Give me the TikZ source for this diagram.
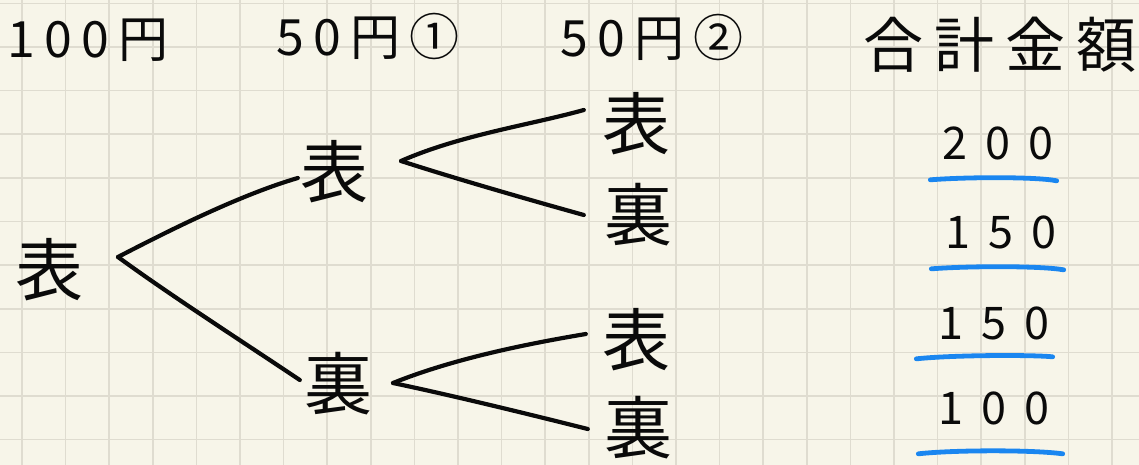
\documentclass[tikz,border=0pt]{standalone}
\usepackage{fontspec}
\usetikzlibrary{calc}
\newfontfamily\jp{Noto Sans CJK JP}
\newfontfamily\jpwide[LetterSpace=18]{Noto Sans CJK JP}
\newfontfamily\numwide[LetterSpace=40]{Noto Sans CJK JP}
\definecolor{paper}{HTML}{F7F5E9}
\definecolor{gridline}{HTML}{DFDCD0}
\definecolor{pen}{HTML}{0A0A0A}
\definecolor{marker}{HTML}{1A86F0}
\begin{document}
\begin{tikzpicture}[x=1pt,y=-1pt,
  head/.style={font=\jpwide\fontsize{50}{50}\selectfont, text=pen, inner sep=0pt},
  leaf/.style={font=\jp\fontsize{68}{68}\selectfont, text=pen, inner sep=0pt},
  total/.style={font=\numwide\fontsize{45}{45}\selectfont, text=pen, inner sep=0pt},
  branch/.style={draw=pen, line width=4.2pt, line cap=round, line join=round},
  uline/.style={draw=marker, line width=4.8pt, line cap=round}]
  % paper and squared grid
  \fill[paper] (0,0) rectangle (1139,465);
  \useasboundingbox (0,0) rectangle (1139,465);
  \foreach \i in {0,...,25} {
    \draw[gridline, line width=1.6pt] ({22+43.6*\i},0) -- ({22+43.6*\i},465);
  }
  \foreach \j in {0,...,10} {
    \draw[gridline, line width=1.6pt] (0,{3.5+43.6*\j}) -- (1139,{3.5+43.6*\j});
  }

  % column headings
  \node[head] (h1) at (88,40) {100円};
  \node[head] (h2) at (368,37) {50円①};
  \node[head] (h3) at (652,38) {50円②};
  \node[head, font=\jpwide\fontsize{60}{60}\selectfont] (h4) at (1000,45) {合計金額};

  % tree of outcomes
  \node[leaf] (r)  at (49,270)  {表};
  \node[leaf] (a1) at (334,172) {表};
  \node[leaf] (a2) at (338,384) {裏};
  \node[leaf] (b1) at (636,124) {表};
  \node[leaf] (b2) at (638,215) {裏};
  \node[leaf] (b3) at (636,340) {表};
  \node[leaf] (b4) at (638,428) {裏};

  % fork points of the branches
  \coordinate (f0) at (118,257);
  \coordinate (f1) at (401,161);
  \coordinate (f2) at (393,383);

  \draw[branch] (f0) .. controls (170,230) and (240,195) .. ($(a1.west)+(-2,6)$);
  \draw[branch] (f0) .. controls (170,295) and (240,340) .. ($(a2.west)+(-4,-4)$);
  \draw[branch] (f1) .. controls (460,135) and (530,125) .. ($(b1.west)+(-18,-14)$);
  \draw[branch] (f1) .. controls (460,180) and (530,200) .. ($(b2.west)+(-20,0)$);
  \draw[branch] (f2) .. controls (450,360) and (520,345) .. ($(b3.west)+(-16,-6)$);
  \draw[branch] (f2) .. controls (450,395) and (520,412) .. ($(b4.west)+(-16,1)$);

  % total amounts, each underlined in blue
  \node[total] (t1) at (998,143) {200};
  \node[total] (t2) at (1001,232) {150};
  \node[total] (t3) at (994,323) {150};
  \node[total] (t4) at (994,408) {100};

  \draw[uline] ($(t1.south west)+(-12,20)$) .. controls ($(t1.south)+(-30,17)$) and ($(t1.south)+(40,17)$) .. ($(t1.south east)+(3,21)$);
  \draw[uline] ($(t2.south west)+(-14,20)$) .. controls ($(t2.south)+(-30,17)$) and ($(t2.south)+(40,17)$) .. ($(t2.south east)+(7,21)$);
  \draw[uline] ($(t3.south west)+(-22,19)$) .. controls ($(t3.south)+(-40,15)$) and ($(t3.south)+(40,15)$) .. ($(t3.south east)+(3,17)$);
  \draw[uline] ($(t4.south west)+(-20,29)$) .. controls ($(t4.south)+(-40,25)$) and ($(t4.south)+(40,25)$) .. ($(t4.south east)+(13,29)$);
\end{tikzpicture}
\end{document}
